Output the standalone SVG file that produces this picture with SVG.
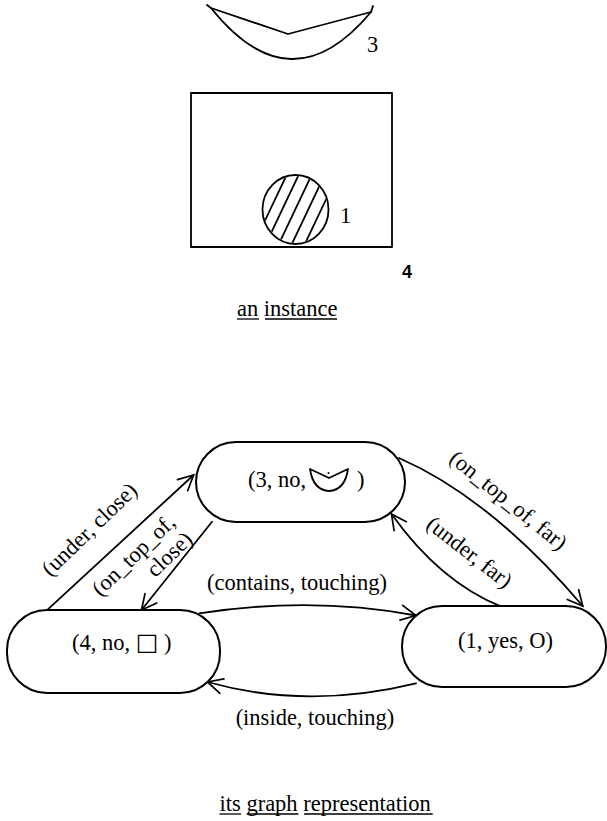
<svg xmlns="http://www.w3.org/2000/svg" width="607" height="821" viewBox="0 0 607 821">
<style>
.ln{fill:none;stroke:#000;stroke-width:1.8;stroke-linecap:round;stroke-linejoin:round}
.nd{fill:#fff;stroke:#000;stroke-width:2}
.t{font-family:"Liberation Serif","Times New Roman",serif;font-size:22.5px;fill:#000}
.ul{stroke:#000;stroke-width:1.3}
</style>
<defs>
<marker id="arr" viewBox="-17 -9 19 18" refX="0" refY="0" markerWidth="19" markerHeight="18" markerUnits="userSpaceOnUse" orient="auto">
<path d="M-15,-7.5 L0,0 L-15,7.5" fill="none" stroke="#000" stroke-width="1.7" stroke-linecap="round"/>
</marker>
<clipPath id="cc"><ellipse cx="295.5" cy="209.5" rx="32" ry="33.5"/></clipPath>
</defs>

<!-- instance -->
<g id="instance">
<g id="obj3">
<path class="ln" d="M207 5 L211 8 L288 34 L371 12 L373 6"/>
<path class="ln" d="M211 8 Q291 108 371 12"/>
<text class="t" x="367" y="52" font-size="22">3</text>
</g>
<g id="obj4">
<rect x="191" y="93" width="201" height="154" class="ln"/>
<text x="402" y="278" font-family="'Liberation Sans',Arial,sans-serif" font-size="18" font-weight="bold">4</text>
</g>
<g id="obj1">
<ellipse cx="295.5" cy="209.5" rx="33" ry="34.5" class="ln"/>
<g clip-path="url(#cc)" class="ln" stroke-width="1.3">
<line x1="251" y1="250" x2="289" y2="170"/>
<line x1="263" y1="250" x2="301" y2="170"/>
<line x1="276" y1="250" x2="314" y2="170"/>
<line x1="289" y1="250" x2="327" y2="170"/>
<line x1="302" y1="250" x2="340" y2="170"/>
</g>
<text class="t" x="340" y="223" font-size="19">1</text>
</g>
<text class="t" x="237" y="316" font-size="23.5">an instance</text>
<line class="ul" x1="237" y1="319" x2="259" y2="319"/>
<line class="ul" x1="265" y1="319" x2="337" y2="319"/>
</g>

<!-- connectors -->
<g id="connectors">
<path class="ln" d="M46.5 610.7 L193.6 475" marker-end="url(#arr)"/>
<path class="ln" d="M212 521.7 L141.5 610" marker-end="url(#arr)"/>
<path class="ln" d="M399 458 Q490.5 498 582.7 606" marker-end="url(#arr)"/>
<path class="ln" d="M501.4 606.7 Q440 582 391.5 514" marker-end="url(#arr)"/>
<path class="ln" d="M199.4 613.3 Q311.6 596 416 615.5" marker-end="url(#arr)"/>
<path class="ln" d="M416 683.3 Q307 710 207.5 682" marker-end="url(#arr)"/>
<text class="t" text-anchor="middle" transform="translate(91 531) rotate(-44)" y="5">(under, close)</text>
<text class="t" text-anchor="middle" transform="translate(135 557) rotate(-44)" y="5">(on_top_of,</text>
<text class="t" text-anchor="middle" transform="translate(171 556) rotate(-44)" y="5">close)</text>
<text class="t" text-anchor="middle" transform="translate(507 502) rotate(39)" y="5">(on_top_of, far)</text>
<text class="t" text-anchor="middle" transform="translate(468 554) rotate(38)" y="5">(under, far)</text>
<text class="t" text-anchor="middle" x="297" y="590">(contains, touching)</text>
<text class="t" text-anchor="middle" x="315" y="725">(inside, touching)</text>
</g>

<!-- nodes -->
<g id="node3">
<rect class="nd" x="196" y="442" width="209" height="80" rx="40"/>
<text class="t" x="248" y="487">(3, no,</text>
<path class="ln" d="M310 469 L329 478 L348 469 Q345 490 329 491 Q313 490 310 469 Z"/>
<circle cx="328.5" cy="473" r="1" fill="#000"/>
<text class="t" x="357" y="487">)</text>
</g>
<g id="node4">
<rect class="nd" x="7" y="610" width="213" height="83" rx="40"/>
<text class="t" x="72" y="650">(4, no, <tspan font-family="'DejaVu Sans',sans-serif" font-size="24">□</tspan> )</text>
</g>
<g id="node1">
<rect class="nd" x="402" y="606" width="204" height="81" rx="40"/>
<text class="t" x="458" y="648">(1, yes, O)</text>
</g>

<g id="caption">
<text class="t" x="219.5" y="811" font-size="22.7">its graph representation</text>
<line class="ul" x1="219.5" y1="814" x2="241" y2="814"/>
<line class="ul" x1="246.7" y1="814" x2="298.4" y2="814"/>
<line class="ul" x1="304.1" y1="814" x2="432.7" y2="814"/>
</g>
</svg>
